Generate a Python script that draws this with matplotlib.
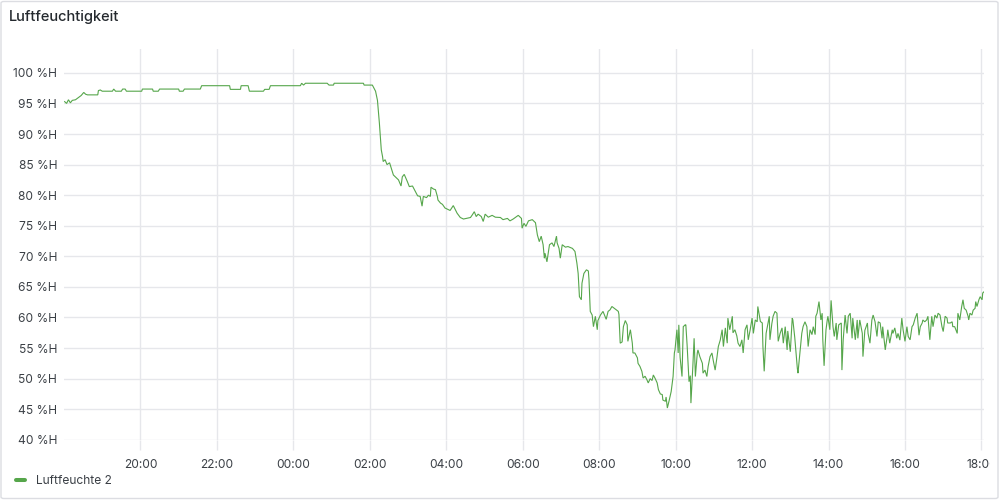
import matplotlib
matplotlib.use("Agg")
import matplotlib.pyplot as plt
from matplotlib.lines import Line2D
from matplotlib.patches import FancyBboxPatch, Rectangle

plt.rcParams['font.family'] = ['Inter', 'DejaVu Sans']

TITLE = "Luftfeuchtigkeit"
SERIES = "Luftfeuchte 2"
GREEN = "#56a64b"

# x = minutes since 18:00 of the previous day
tick_minutes = [120, 240, 360, 480, 600, 720, 840, 960, 1080, 1200, 1320, 1440]
tick_labels = ["20:00", "22:00", "00:00", "02:00", "04:00", "06:00",
               "08:00", "10:00", "12:00", "14:00", "16:00", "18:00"]
y_ticks = [40, 45, 50, 55, 60, 65, 70, 75, 80, 85, 90, 95, 100]

# evening / night plateau (18:00 - 02:04)
night = [(1, 95.3), (4, 95.0), (7, 95.6), (10, 95.1), (13, 95.5), (18, 95.6), (23, 96.0),
         (27, 96.3), (31, 96.8), (34, 96.5), (37, 96.4), (53, 96.4), (54, 97.1), (57, 97.2),
         (60, 97.0), (76, 97.0), (78, 97.35), (81, 97.0), (90, 97.0), (92, 97.35), (96, 97.35),
         (98, 97.0), (122, 97.0), (123, 97.35), (139, 97.35), (140, 97.0), (148, 97.0),
         (150, 97.35), (180, 97.35), (181, 97.0), (187, 97.0), (189, 97.35), (214, 97.35),
         (216, 97.9), (260, 97.9), (261, 97.3), (277, 97.3), (278, 97.9), (289, 97.9),
         (291, 97.0), (313, 97.0), (315, 97.3), (322, 97.3), (324, 97.9), (371, 97.9),
         (373, 98.3), (376, 98.0), (379, 98.3), (413, 98.3), (416, 98.0), (423, 98.0),
         (424, 98.3), (470, 98.3), (471, 98.0), (484, 98.0)]

# drop after 02:00 until ~06:20
drop = [(489, 97.0), (492, 95.5), (495, 91.8), (498, 87.4), (500, 86.3), (501, 85.5),
        (504, 85.8), (507, 85.0), (511, 85.3), (514, 84.3), (517, 83.3), (520, 83.0),
        (525, 82.5), (529, 81.5), (531, 83.0), (534, 83.4), (539, 82.2), (542, 81.4),
        (547, 81.5), (550, 80.9), (555, 79.9), (559, 79.8), (562, 78.2), (564, 79.8),
        (569, 79.6), (572, 80.0), (575, 79.8), (576, 81.3), (580, 81.0), (583, 80.9),
        (586, 79.8), (587, 79.2), (591, 78.7), (594, 78.5), (598, 77.9), (606, 77.5),
        (611, 78.3), (617, 77.05), (622, 76.35), (627, 76.1), (638, 76.35), (641, 76.8),
        (644, 77.3), (647, 76.5), (650, 76.9), (655, 76.5), (658, 75.7), (661, 76.9),
        (666, 76.4), (672, 76.7), (677, 76.4), (685, 76.35), (689, 76.0), (696, 76.2),
        (700, 75.8), (705, 76.1), (713, 76.7), (718, 76.2), (719, 74.6), (722, 75.4),
        (725, 74.9), (729, 75.8), (735, 76.0), (740, 75.5)]

# morning decline to the minimum near 10:00
morning = [(743, 73.5), (746, 72.4), (749, 73.3), (752, 71.9), (754, 69.7), (755, 70.5),
           (758, 69.1), (762, 71.9), (766, 72.2), (769, 71.6), (773, 73.3), (774, 72.2),
           (777, 71.3), (779, 69.7), (782, 71.9), (787, 71.5), (791, 71.6), (798, 71.3),
           (802, 70.8), (805, 68.9), (807, 67.2), (809, 63.4), (812, 62.9), (813, 65.6),
           (816, 67.2), (820, 67.8), (823, 67.6), (824, 66.2), (826, 61.0), (829, 60.4),
           (831, 58.5), (834, 60.2), (837, 58.0), (838, 59.5), (842, 60.4), (846, 61.0),
           (851, 59.7), (854, 61.0), (857, 61.25), (860, 61.8), (865, 61.4), (870, 61.0),
           (871, 60.5), (873, 55.8), (876, 56.0), (878, 58.5), (881, 59.5), (884, 58.8),
           (885, 56.1), (889, 58.0), (892, 55.8), (893, 54.2), (896, 54.2), (900, 53.4),
           (901, 52.5), (904, 52.0), (907, 51.2), (909, 50.1), (912, 50.4), (915, 49.8),
           (917, 49.3), (920, 50.0), (923, 49.7), (925, 50.6), (928, 50.0), (931, 49.3),
           (933, 48.2), (936, 47.5), (939, 47.4), (940, 46.5), (944, 46.3), (945, 47.0),
           (947, 45.2), (950, 46.5), (953, 47.9)]

# noisy day period 10:00 - 18:00
day = [(956, 50.35), (958, 54.2), (959, 54.7), (962, 58.0), (964, 54.2), (965, 58.8),
       (967, 53.5), (969, 51.4), (970, 50.35), (972, 58.5), (975, 58.8), (976, 58.8),
       (978, 55.5), (981, 49.5), (983, 50.5), (984, 46.0), (987, 52.0), (989, 56.6),
       (991, 50.35), (994, 54.2), (995, 54.7), (998, 53.6), (1002, 52.5), (1003, 50.9),
       (1006, 51.4), (1009, 50.35), (1011, 52.0), (1014, 53.6), (1017, 54.2), (1019, 53.0),
       (1022, 51.4), (1025, 53.6), (1027, 55.25), (1030, 56.3), (1033, 58.0), (1035, 55.25),
       (1038, 58.3), (1041, 55.8), (1042, 59.9), (1045, 58.0), (1049, 60.2), (1050, 57.5),
       (1053, 58.0), (1056, 57.0), (1058, 55.8), (1061, 55.25), (1064, 56.35), (1066, 54.2),
       (1069, 58.0), (1072, 58.8), (1074, 56.35), (1077, 58.0), (1080, 59.9), (1082, 57.4),
       (1085, 59.6), (1088, 59.3), (1089, 61.8), (1093, 59.35), (1096, 59.1), (1097, 55.25),
       (1099, 51.2), (1102, 57.4), (1104, 58.5), (1107, 60.2), (1108, 56.35), (1111, 59.0),
       (1113, 60.2), (1116, 61.0), (1119, 60.7), (1121, 56.1), (1124, 57.4), (1127, 58.3),
       (1129, 55.8), (1132, 58.5), (1135, 54.7), (1136, 57.8), (1140, 54.4), (1143, 59.9),
       (1144, 59.6), (1147, 56.7), (1151, 51.7), (1152, 50.9), (1156, 55.25), (1158, 57.4),
       (1160, 58.5), (1163, 59.3), (1166, 58.5), (1168, 55.25), (1171, 58.0), (1174, 57.2),
       (1176, 58.5), (1179, 57.2), (1180, 60.2), (1182, 60.7), (1185, 62.6), (1188, 59.6),
       (1190, 60.7), (1191, 56.35), (1193, 52.1), (1196, 58.0), (1198, 59.6), (1199, 60.2),
       (1202, 58.0), (1204, 62.8), (1207, 58.5), (1209, 56.9), (1212, 59.1), (1213, 56.35),
       (1216, 58.8), (1220, 59.1), (1221, 51.4), (1223, 56.35), (1226, 60.4), (1229, 57.4),
       (1231, 60.2), (1234, 60.7), (1237, 56.6), (1238, 59.9), (1242, 56.35), (1245, 59.6),
       (1246, 56.6), (1249, 59.6), (1253, 57.4), (1254, 53.6), (1257, 57.9), (1261, 59.1),
       (1262, 57.4), (1265, 55.8), (1268, 59.6), (1270, 60.4), (1273, 59.3), (1276, 56.9),
       (1278, 59.3), (1281, 59.1), (1284, 56.6), (1285, 58.5), (1289, 54.7), (1292, 56.9),
       (1293, 58.0), (1296, 55.8), (1300, 58.0), (1301, 57.4), (1304, 58.3), (1307, 56.6),
       (1309, 57.4), (1312, 56.3), (1315, 59.9), (1317, 58.0), (1320, 56.1), (1323, 58.5),
       (1325, 56.9), (1328, 56.35), (1331, 58.5), (1333, 58.8), (1336, 59.9), (1339, 60.7),
       (1342, 57.1), (1344, 58.5), (1347, 59.1), (1348, 59.6), (1351, 59.3), (1354, 59.6),
       (1356, 60.2), (1359, 56.35), (1362, 60.2), (1364, 58.5), (1367, 60.4), (1370, 59.9),
       (1372, 60.7), (1375, 60.4), (1378, 58.5), (1380, 57.7), (1383, 60.2), (1386, 59.9),
       (1387, 59.1), (1391, 59.1), (1394, 59.3), (1395, 58.5), (1398, 58.5), (1402, 57.4),
       (1403, 60.7), (1406, 59.6), (1409, 61.8), (1411, 62.9), (1413, 61.5), (1416, 61.2),
       (1419, 60.2), (1420, 59.6), (1422, 60.7), (1425, 60.4), (1427, 61.2), (1430, 61.5),
       (1431, 62.6), (1433, 61.8), (1436, 62.9), (1438, 63.4), (1441, 62.9), (1442, 64.0),
       (1444, 64.2)]

series = night + drop + morning + day
minutes = [p[0] for p in series]
humidity = [p[1] for p in series]

GRID = "#e6e7eb"
TEXT = "#24292e"
TICK_TEXT = "#3b4046"

fig = plt.figure(figsize=(10, 5), dpi=100)
fig.patch.set_facecolor("white")
panel = FancyBboxPatch((0.001, 0.003), 0.997, 0.994,
                       boxstyle="round,pad=0,rounding_size=0.003",
                       transform=fig.transFigure, facecolor="white",
                       edgecolor="#dcdde2", linewidth=1.0, zorder=-10)
fig.patches.append(panel)

ax = fig.add_axes([0.064, 0.12, 0.92, 0.782])
ax.set_zorder(1)
ax.set_facecolor("none")
ax.plot(minutes, humidity, color=GREEN, linewidth=0.8, solid_joinstyle="miter")

ax.set_xlim(0, 1444)
ax.set_ylim(39.97, 103.9)
ax.set_xticks(tick_minutes, tick_labels)
ax.set_yticks(y_ticks, [f"{y} %H" for y in y_ticks])
ax.grid(True, color=GRID, linewidth=1.0)
ax.set_axisbelow(True)
for s in ax.spines.values():
    s.set_visible(False)
ax.tick_params(axis="x", length=7, width=1.0, color=GRID, pad=6.5,
               labelsize=8.64, labelcolor=TICK_TEXT)
ax.tick_params(axis="y", length=0, pad=5, labelsize=8.64, labelcolor=TICK_TEXT)

fig.text(0.009, 1 - 17 / 500, TITLE, ha="left", va="center",
         fontsize=10.5, fontweight="medium", color=TEXT)

handle = Line2D([], [], color=GREEN, linewidth=2.9, solid_capstyle="round")
fig.legend([handle], [SERIES], loc="center left", bbox_to_anchor=(0.0155, 0.038),
           frameon=False, handlelength=0.8, handletextpad=0.95, borderpad=0,
           borderaxespad=0, fontsize=8.64, labelcolor=TICK_TEXT)

# the panel cuts the last x label off at its right edge
cover = Rectangle((0.9898, 0.056), 0.0075, 0.046, transform=fig.transFigure,
                  facecolor="white", edgecolor="none", zorder=5)
fig.add_artist(cover)

fig.savefig("out.png", dpi=100, facecolor="white")
